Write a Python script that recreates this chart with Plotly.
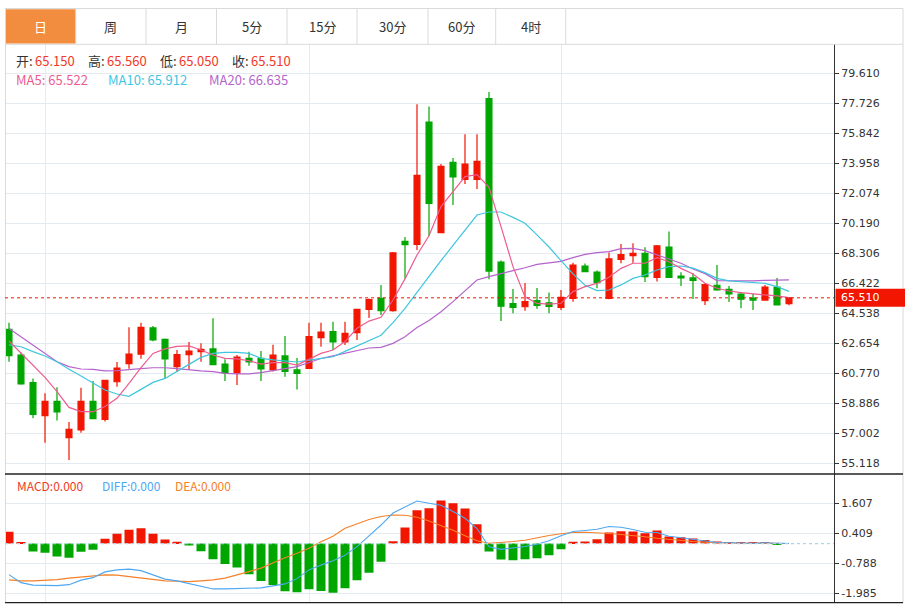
import plotly.graph_objects as go

W, H = 908, 605


def px(x):
    return x / W


def py(y):
    return 1 - y / H


# ---------------- data ----------------
days = list(range(66))

open_ = [63.53, 61.92, 60.18, 58.11, 59.01, 56.73, 57.21, 59.01, 57.88, 60.24,
         61.38, 61.98, 63.62, 62.90, 61.19, 61.94, 62.13, 62.30, 61.35, 60.79,
         61.71, 61.71, 60.98, 61.86, 60.98, 61.08, 63.01, 63.39, 62.74, 63.32,
         64.79, 65.48, 64.70, 69.06, 68.87, 76.55, 69.60, 74.02, 72.95, 72.95,
         78.02, 67.76, 65.14, 64.95, 65.33, 65.20, 64.91, 65.48, 67.51, 67.13,
         65.48, 67.93, 68.16, 68.30, 66.80, 68.70, 66.88, 66.76, 65.33, 66.30,
         66.04, 65.75, 65.50, 65.37, 66.19, 65.15]
high = [63.95, 62.07, 60.45, 59.51, 59.89, 57.71, 59.87, 60.29, 60.33, 61.48,
        63.66, 63.95, 63.74, 62.95, 62.23, 62.74, 62.65, 64.22, 61.65, 61.92,
        62.13, 62.17, 62.57, 63.11, 61.73, 63.95, 63.95, 64.01, 64.01, 64.79,
        65.46, 66.32, 68.39, 69.33, 77.66, 77.52, 73.91, 74.29, 75.78, 75.78,
        78.44, 67.86, 66.07, 66.44, 66.13, 65.85, 66.00, 67.72, 67.66, 67.22,
        68.35, 68.89, 68.93, 68.68, 68.83, 69.67, 67.11, 67.05, 66.42, 67.57,
        66.25, 65.88, 65.75, 66.32, 66.76, 65.56]
low = [61.50, 60.05, 57.94, 56.41, 57.80, 55.32, 57.04, 57.92, 57.75, 59.93,
       61.06, 61.69, 62.78, 60.48, 60.85, 61.00, 61.50, 61.31, 60.29, 60.04,
       61.25, 60.29, 60.89, 60.56, 59.76, 61.05, 62.44, 62.23, 62.55, 62.86,
       64.24, 64.43, 64.64, 66.73, 68.51, 69.39, 69.60, 71.34, 72.66, 72.35,
       66.67, 64.06, 64.54, 64.70, 64.83, 64.54, 64.75, 65.27, 67.11, 66.11,
       65.42, 67.68, 67.72, 66.50, 66.53, 66.80, 66.25, 65.44, 65.06, 65.96,
       65.25, 64.85, 64.75, 65.35, 65.04, 65.05]
close = [61.88, 60.10, 58.19, 59.01, 58.34, 57.25, 59.01, 57.92, 60.33, 61.10,
         61.98, 63.66, 62.86, 61.67, 61.94, 62.17, 62.28, 61.31, 60.79, 61.79,
         61.48, 61.04, 61.92, 60.89, 60.77, 63.07, 63.36, 62.74, 63.28, 64.79,
         65.40, 64.70, 68.33, 68.85, 73.20, 71.44, 73.77, 73.10, 73.91, 74.08,
         67.19, 64.98, 64.91, 65.27, 65.04, 64.97, 65.54, 67.57, 67.15, 66.46,
         67.95, 68.22, 68.30, 66.84, 68.77, 66.80, 66.76, 66.61, 66.34, 66.00,
         65.75, 65.42, 65.37, 66.19, 65.06, 65.51]

ma5 = [62.80, 62.02, 61.29, 60.52, 59.62, 58.63, 58.36, 58.36, 58.68, 59.20,
       60.14, 61.12, 62.02, 62.30, 62.46, 62.49, 62.23, 61.92, 61.71, 61.67,
       61.56, 61.35, 61.44, 61.44, 61.29, 61.66, 62.02, 62.23, 62.76, 63.60,
       64.05, 64.29, 65.37, 66.70, 68.20, 69.41, 71.24, 72.18, 73.12, 73.25,
       72.45, 69.98, 67.47, 65.58, 65.16, 65.12, 65.17, 65.90, 66.21, 66.42,
       66.80, 67.36, 67.68, 67.68, 68.03, 67.78, 67.36, 67.01, 66.42, 66.11,
       65.94, 65.84, 65.75, 65.69, 65.63, 65.522]
ma10 = [62.55, 62.44, 62.13, 61.86, 61.50, 61.02, 60.60, 60.14, 59.72, 59.47,
        59.32, 59.76, 60.20, 60.45, 60.87, 61.33, 61.77, 62.02, 62.09, 62.09,
        62.02, 61.71, 61.61, 61.54, 61.48, 61.60, 61.70, 61.81, 62.15, 62.49,
        62.80, 63.16, 63.95, 64.85, 65.85, 66.88, 67.84, 68.81, 69.77, 70.71,
        70.90, 70.90, 70.56, 70.19, 69.46, 68.70, 67.85, 67.01, 66.30, 65.96,
        66.00, 66.32, 66.73, 66.94, 67.26, 67.47, 67.51, 67.38, 67.09, 66.73,
        66.57, 66.53, 66.48, 66.42, 66.21, 65.912]
ma20 = [63.59, 63.07, 62.55, 62.02, 61.50, 61.19, 61.04, 61.02, 60.92, 60.94,
        61.02, 61.06, 61.12, 61.12, 61.06, 60.98, 60.92, 60.87, 60.77, 60.73,
        60.73, 60.81, 60.94, 61.08, 61.19, 61.45, 61.70, 61.86, 62.02, 62.19,
        62.36, 62.40, 62.65, 63.07, 63.64, 64.08, 64.64, 65.27, 65.96, 66.63,
        66.84, 67.05, 67.22, 67.40, 67.61, 67.71, 67.80, 68.03, 68.24, 68.35,
        68.41, 68.60, 68.62, 68.47, 68.20, 67.93, 67.68, 67.32, 67.03, 66.59,
        66.57, 66.57, 66.57, 66.61, 66.63, 66.635]

macd = [0.47, 0.04, -0.32, -0.37, -0.52, -0.57, -0.33, -0.25, 0.19, 0.39,
        0.55, 0.61, 0.39, 0.16, 0.07, -0.08, -0.31, -0.63, -0.82, -0.96,
        -1.22, -1.49, -1.65, -1.90, -1.94, -1.82, -1.89, -1.96, -1.78, -1.46,
        -1.16, -0.73, 0.09, 0.64, 1.33, 1.41, 1.72, 1.61, 1.40, 0.77,
        -0.32, -0.64, -0.67, -0.63, -0.59, -0.47, -0.23, 0.07, 0.08, 0.17,
        0.44, 0.49, 0.48, 0.41, 0.52, 0.28, 0.25, 0.20, 0.14, 0.08,
        0.04, 0.03, 0.03, 0.04, -0.04, 0.0]
diff = [-1.24, -1.56, -1.66, -1.66, -1.68, -1.64, -1.46, -1.36, -1.13, -1.05,
        -1.02, -1.08, -1.26, -1.42, -1.49, -1.60, -1.70, -1.81, -1.81, -1.80,
        -1.80, -1.77, -1.69, -1.61, -1.40, -1.05, -0.86, -0.69, -0.47, -0.12,
        0.31, 0.74, 1.22, 1.46, 1.70, 1.61, 1.53, 1.28, 1.01, 0.60,
        -0.13, -0.23, -0.19, -0.12, -0.03, 0.11, 0.31, 0.48, 0.52, 0.57,
        0.68, 0.65, 0.56, 0.45, 0.44, 0.29, 0.23, 0.16, 0.09, 0.04,
        0.03, 0.01, 0.01, 0.03, 0.00, 0.0]
dea = [-1.45, -1.49, -1.49, -1.48, -1.44, -1.38, -1.33, -1.28, -1.25, -1.26,
       -1.32, -1.38, -1.44, -1.49, -1.50, -1.52, -1.49, -1.45, -1.38, -1.26,
       -1.12, -0.98, -0.77, -0.57, -0.39, -0.19, 0.07, 0.29, 0.61, 0.80,
       0.96, 1.08, 1.14, 1.13, 1.05, 0.90, 0.72, 0.53, 0.31, 0.11,
       0.01, 0.03, 0.08, 0.13, 0.24, 0.32, 0.39, 0.44, 0.45, 0.44,
       0.40, 0.36, 0.32, 0.27, 0.21, 0.16, 0.12, 0.08, 0.05, 0.03,
       0.01, 0.01, 0.01, 0.01, 0.01, 0.0]

price_ticks = [55.118, 57.002, 58.886, 60.770, 62.654, 64.538, 66.422,
               68.306, 70.190, 72.074, 73.958, 75.842, 77.726, 79.610]
macd_ticks = [-1.985, -0.788, 0.409, 1.607]
month_starts = [3, 25, 46]
tabs = ["日", "周", "月", "5分", "15分", "30分", "60分", "4时"]

# ---------------- styles ----------------
RED = "#F21500"
GREEN = "#00A600"
TXT_RED = "#F03A26"
C_MA5 = "#EE5B8F"
C_MA10 = "#3FC6DF"
C_MA20 = "#B464CB"
C_DIFF = "#4EA8F2"
C_DEA = "#F5812A"
GRID = "#E3EAF0"
FRAME = "#DADADA"
AXIS = "#333333"
CJK = "Noto Sans CJK SC"
NUMF = "DejaVu Sans"

fig = go.Figure()

fig.add_trace(go.Candlestick(
    x=days, open=open_, high=high, low=low, close=close,
    increasing=dict(line=dict(color=RED, width=1.2), fillcolor=RED),
    decreasing=dict(line=dict(color=GREEN, width=1.2), fillcolor=GREEN),
    whiskerwidth=0, showlegend=False, hoverinfo="skip",
    xaxis="x", yaxis="y"))

for vals, col in [(ma20, C_MA20), (ma10, C_MA10), (ma5, C_MA5)]:
    fig.add_trace(go.Scatter(x=days, y=vals, mode="lines",
                             line=dict(color=col, width=1.2),
                             showlegend=False, hoverinfo="skip",
                             xaxis="x", yaxis="y"))

fig.add_trace(go.Bar(x=days, y=macd,
                     marker=dict(color=[RED if v >= 0 else GREEN for v in macd],
                                 line=dict(width=0)),
                     showlegend=False, hoverinfo="skip",
                     xaxis="x2", yaxis="y2"))
fig.add_trace(go.Scatter(x=days, y=dea, mode="lines",
                         line=dict(color=C_DEA, width=1.1),
                         showlegend=False, hoverinfo="skip",
                         xaxis="x2", yaxis="y2"))
fig.add_trace(go.Scatter(x=days, y=diff, mode="lines",
                         line=dict(color=C_DIFF, width=1.1),
                         showlegend=False, hoverinfo="skip",
                         xaxis="x2", yaxis="y2"))

# main axis range derived from pixel geometry (30px per tick step)
step = price_ticks[1] - price_ticks[0]
top_v = price_ticks[-1] + (73.3 - 44.3) / 30 * step
bot_v = price_ticks[-1] - (474 - 73.3) / 30 * step
mstep = macd_ticks[1] - macd_ticks[0]
m_top = macd_ticks[-1] + (503.3 - 474) / 30 * mstep
m_bot = macd_ticks[0] - (602.7 - 593.3) / 30 * mstep

xcommon = dict(domain=[px(5), px(834)], range=[-0.333, 68.75],
               tickvals=month_starts, showticklabels=False, ticks="",
               showgrid=True, gridcolor=GRID, gridwidth=1, zeroline=False,
               showline=False, fixedrange=True)

fig.update_layout(
    width=W, height=H, margin=dict(l=0, r=0, t=0, b=0),
    paper_bgcolor="white", plot_bgcolor="white",
    hovermode=False, showlegend=False, boxgap=0.3, bargap=0.25,
    xaxis=dict(**xcommon, anchor="y", rangeslider=dict(visible=False)),
    xaxis2=dict(**xcommon, anchor="y2", matches="x"),
    yaxis=dict(domain=[py(474), py(44.3)], range=[bot_v, top_v], side="right",
               anchor="x", tickvals=price_ticks,
               ticktext=[f"{v:.3f}" for v in price_ticks],
               ticks="outside", ticklen=4, tickcolor=AXIS,
               showline=True, linecolor=AXIS, linewidth=1,
               showgrid=True, gridcolor=GRID, zeroline=False,
               tickfont=dict(family=NUMF, size=11, color=AXIS), fixedrange=True),
    yaxis2=dict(domain=[py(602.7), py(474)], range=[m_bot, m_top], side="right",
                anchor="x2", tickvals=macd_ticks,
                ticktext=[f"{v:.3f}" for v in macd_ticks],
                ticks="outside", ticklen=4, tickcolor=AXIS,
                showline=True, linecolor=AXIS, linewidth=1,
                showgrid=True, gridcolor=GRID, zeroline=False,
                tickfont=dict(family=NUMF, size=11, color=AXIS), fixedrange=True),
)

shapes = []


def pline(x0, y0, x1, y1, color, width=1, dash="solid", layer="above"):
    shapes.append(dict(type="line", xref="paper", yref="paper",
                       x0=px(x0), y0=py(y0), x1=px(x1), y1=py(y1),
                       line=dict(color=color, width=width, dash=dash), layer=layer))


# frame and tab bar
pline(5, 8.5, 903, 8.5, FRAME)
pline(5, 44.3, 903, 44.3, FRAME)
pline(5.5, 8.5, 5.5, 603, "#D5DDE3")
pline(903, 8.5, 903, 603, FRAME)
tab_edges = [5.8, 75.8, 146, 216.5, 287, 357, 428, 495.7, 565.7]
for e in tab_edges[1:]:
    pline(e, 8.5, e, 44.3, FRAME)
shapes.append(dict(type="rect", xref="paper", yref="paper",
                   x0=px(6), x1=px(75.3), y0=py(43.5), y1=py(9.3),
                   fillcolor="#F28C3E", line=dict(width=0), layer="above"))
# panel separators
pline(5, 474, 903, 474, "#222222", 1.3)
pline(5, 602.7, 903, 602.7, "#222222", 1.3)

# last price dotted line and label
last = close[-1]
shapes.append(dict(type="line", xref="paper", yref="y", x0=px(5), x1=px(834),
                   y0=last, y1=last, line=dict(color=RED, width=1, dash="dot")))
half = 9 / 30 * step
shapes.append(dict(type="rect", xref="paper", yref="y", x0=px(835.5), x1=px(905),
                   y0=last - half, y1=last + half, fillcolor=RED,
                   line=dict(width=0)))
# macd zero line
shapes.append(dict(type="line", xref="paper", yref="y2", x0=px(5), x1=px(834),
                   y0=0, y1=0, line=dict(color="#A9D6EA", width=1.2, dash="dot")))

fig.update_layout(shapes=shapes)

ann = []


def text(x, y, s, color, size=13, family=CJK, anchor="left"):
    ann.append(dict(xref="paper", yref="paper", x=px(x), y=py(y), text=s,
                    showarrow=False, xanchor=anchor, yanchor="middle",
                    font=dict(family=family, size=size, color=color)))


centers = [(tab_edges[i] + tab_edges[i + 1]) / 2 for i in range(len(tabs))]
for i, (t, cx) in enumerate(zip(tabs, centers)):
    text(cx, 27, t, "white" if i == 0 else "#333333", 13, CJK, "center")

# OHLC header
hdr = [("开:", 14, open_[-1]), ("高:", 86, high[-1]),
       ("低:", 158, low[-1]), ("收:", 230, close[-1])]
for lab, x0, v in hdr:
    text(x0, 61, lab, "#333333", 13)
    text(x0 + 19, 61, f"{v:.3f}", TXT_RED, 13)

text(14, 79, f"MA5: {ma5[-1]:.3f}", C_MA5, 13)
text(106, 79, f"MA10: {ma10[-1]:.3f}", C_MA10, 13)
text(207, 79, f"MA20: {ma20[-1]:.3f}", C_MA20, 13)

text(15, 485, f"MACD:{macd[-1]:.3f}", TXT_RED, 12)
text(100, 485, f"DIFF:{diff[-1]:.3f}", C_DIFF, 12)
text(173, 485, f"DEA:{dea[-1]:.3f}", C_DEA, 12)

ann.append(dict(xref="paper", yref="y", x=px(839), y=last, text=f"{last:.3f}",
                showarrow=False, xanchor="left", yanchor="middle",
                font=dict(family=NUMF, size=11, color="white")))

fig.update_layout(annotations=ann)

fig.write_html("out.html", config={"displayModeBar": False},
               post_script="document.body.style.margin='0';")
